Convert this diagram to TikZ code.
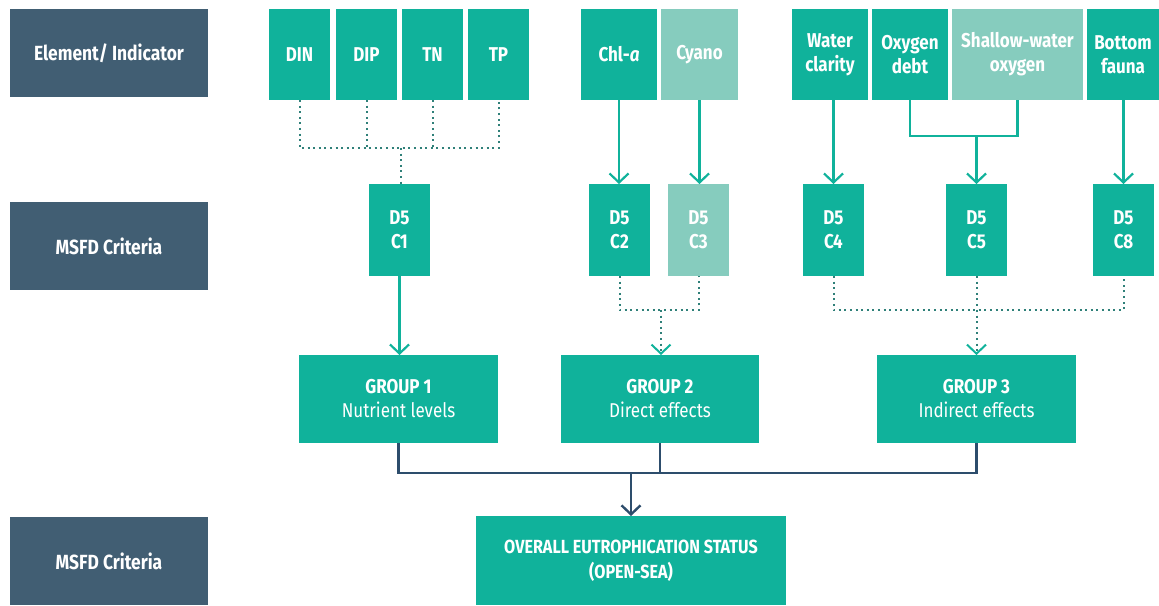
\documentclass[tikz,border=0pt]{standalone}
\usepackage{fontspec}
\setmainfont{Fira Sans}[FakeStretch=0.85]
\usetikzlibrary{arrows.meta,calc}
\definecolor{tealc}{HTML}{10B29B}
\definecolor{lightc}{HTML}{86CCBE}
\definecolor{slatec}{HTML}{415E73}
\definecolor{navyc}{HTML}{2D4D6C}
\definecolor{dotc}{HTML}{2F8079}
\tikzset{
  base/.style={inner sep=0pt, outer sep=0pt, text=white, align=center,
    font=\bfseries\fontsize{20}{24}\selectfont},
  tbox/.style={base, fill=tealc},
  lbox/.style={base, fill=lightc},
  sbox/.style={base, fill=slatec, minimum width=198pt, minimum height=88pt,
    font=\bfseries\fontsize{20.5}{24}\selectfont},
  topbox/.style={minimum height=91pt},
  critbox/.style={minimum width=61pt, minimum height=92pt},
  grpbox/.style={minimum height=88pt},
  barb/.tip={Straight Barb[length=9pt,width=19pt]},
  flow/.style={draw=tealc, line width=2.2pt},
  flowarrow/.style={flow, -barb},
  dots/.style={draw=dotc, line width=2pt, dash pattern=on 2pt off 3.6pt},
  dotarrow/.style={dots, -{Straight Barb[length=9pt,width=19pt,color=tealc]}},
  navyline/.style={draw=navyc, line width=2.4pt},
  navyarrow/.style={navyline, -barb}
}
\begin{document}
\begin{tikzpicture}[x=1pt,y=-1pt]
\useasboundingbox (0,0) rectangle (1159,605);
% row labels
\node[sbox] (lab1) at (109,53) {Element/ Indicator};
\node[sbox] (lab2) at (109,246) {MSFD Criteria};
\node[sbox] (lab3) at (109,561) {MSFD Criteria};
% indicators
\node[tbox, topbox, minimum width=61pt] (din) at (299.5,54.5) {DIN};
\node[tbox, topbox, minimum width=61pt] (dip) at (366.5,54.5) {DIP};
\node[tbox, topbox, minimum width=61pt] (tn) at (432.5,54.5) {TN};
\node[tbox, topbox, minimum width=61pt] (tp) at (498.5,54.5) {TP};
\node[tbox, topbox, minimum width=76pt] (chl) at (619,54.5) {Chl-\textit{a}};
\node[lbox, topbox, minimum width=77pt] (cyano) at (699.5,54.5) {Cyano};
\node[tbox, topbox, minimum width=76pt] (water) at (830,54.5) {Water\\clarity};
\node[tbox, topbox, minimum width=76pt] (oxy) at (910,54.5) {Oxygen\\debt};
\node[lbox, topbox, minimum width=131pt] (shal) at (1017.5,54.5) {Shallow-water\\oxygen};
\node[tbox, topbox, minimum width=72pt] (bot) at (1123,54.5) {Bottom\\fauna};
% criteria
\node[tbox, critbox] (c1) at (399.5,230) {D5\\C1};
\node[tbox, critbox] (c2) at (619.5,230) {D5\\C2};
\node[lbox, critbox] (c3) at (698.5,230) {D5\\C3};
\node[tbox, critbox] (c4) at (833.5,230) {D5\\C4};
\node[tbox, critbox] (c5) at (976.5,230) {D5\\C5};
\node[tbox, critbox] (c8) at (1123.5,230) {D5\\C8};
% groups
\node[tbox, grpbox, minimum width=199pt] (g1) at (398.5,399) {GROUP 1\\\mdseries Nutrient levels};
\node[tbox, grpbox, minimum width=198pt] (g2) at (660,399) {GROUP 2\\\mdseries Direct effects};
\node[tbox, grpbox, minimum width=199pt] (g3) at (976.5,399) {GROUP 3\\\mdseries Indirect effects};
% overall
\node[tbox, minimum width=310pt, minimum height=89pt,
  font=\bfseries\fontsize{19}{25}\selectfont] (ovr) at (631,560.5)
  {OVERALL EUTROPHICATION STATUS\\(OPEN-SEA)};
% junctions
\coordinate (j1) at (401,148);
\coordinate (j2) at (661,310);
\coordinate (j3) at (976.5,310);
\coordinate (j4) at (976.5,136);
\coordinate (j5) at (631,473);
% nutrients -> C1
\draw[dots] (din.south) |- (tp.south |- j1) -- (tp.south);
\draw[dots] (dip.south) -- (dip.south |- j1);
\draw[dots] (tn.south) -- (tn.south |- j1);
\draw[dots] (j1) -- (j1 |- c1.north);
% direct
\draw[flowarrow] (chl.south) -- (chl.south |- c2.north);
\draw[flowarrow] (cyano.south) -- (cyano.south |- c3.north);
% indirect
\draw[flowarrow] (c4.north |- water.south) -- (c4.north);
\draw[flow] (oxy.south) |- (shal.south |- j4) -- (shal.south);
\draw[flowarrow] (j4) -- (c5.north);
\draw[flowarrow] (c8.north |- bot.south) -- (c8.north);
% criteria -> groups
\draw[flowarrow] (c1.south) -- (c1.south |- g1.north);
\draw[dots] (c2.south) |- (c3.south |- j2) -- (c3.south);
\draw[dotarrow] (j2) -- (j2 |- g2.north);
\draw[dots] (c4.south) |- (c8.south |- j3) -- (c8.south);
\draw[dots] (c5.south) -- (j3);
\draw[dotarrow] (j3) -- (g3.north);
% groups -> overall
\draw[navyline] (g1.south) |- (g3.south |- j5) -- (g3.south);
\draw[navyline] (g2.south) -- (g2.south |- j5);
\draw[navyarrow] (j5) -- (ovr.north);
\end{tikzpicture}
\end{document}
